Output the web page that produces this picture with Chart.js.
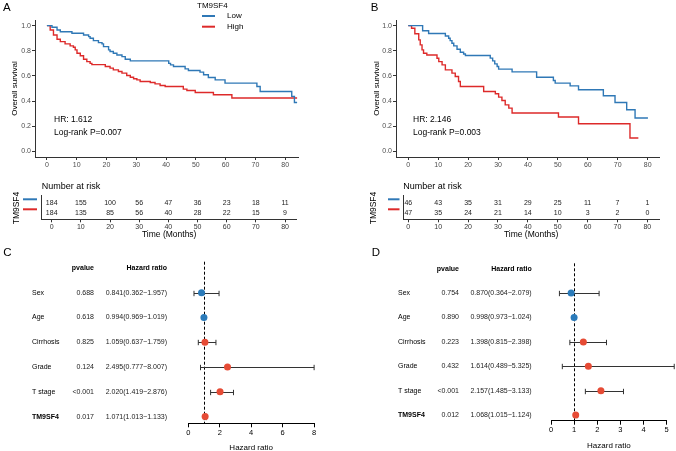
<!DOCTYPE html>
<html><head><meta charset="utf-8">
<script src="https://cdn.jsdelivr.net/npm/chart.js@4.4.1/dist/chart.umd.min.js"></script>
<style>
html,body{margin:0;padding:0;background:#fff;}
#wrap{position:relative;width:676px;height:451px;overflow:hidden;background:#fff;}
canvas{position:absolute;}
</style></head><body>
<div id="wrap">
<canvas id="kmA" width="340" height="175" style="left:0;top:0"></canvas>
<canvas id="kmB" width="336" height="175" style="left:340px;top:0"></canvas>
<canvas id="riskA" width="340" height="70" style="left:0;top:175px"></canvas>
<canvas id="riskB" width="336" height="70" style="left:340px;top:175px"></canvas>
<canvas id="forC" width="340" height="215" style="left:0;top:240px"></canvas>
<canvas id="forD" width="338" height="215" style="left:338px;top:240px"></canvas>
</div>
<script>
// ---------------- DATA ----------------
const timeTicks = [0, 10, 20, 30, 40, 50, 60, 70, 80];
const survTicks = [0, 0.2, 0.4, 0.6, 0.8, 1.0];
const groupLabels = ['Low', 'High'];

// Panel A (Kaplan-Meier, step points: time, survival)
const aLowT  = [0, 1.7, 3.4, 4.5, 8.4, 12.3, 14.0, 14.5, 15.6, 17.3, 18.5, 19.0, 20.7, 21.2, 22.3, 23.5, 25.2, 26.3, 28.0, 40.9, 41.5, 42.5, 46.4, 47.5, 51.4, 52.6, 54.2, 56.5, 59.8, 70.5, 71.6, 82.2, 83.1, 84.0];
const aLowS  = [1.0, 0.987, 0.966, 0.952, 0.94, 0.926, 0.913, 0.90, 0.881, 0.865, 0.855, 0.833, 0.807, 0.794, 0.78, 0.767, 0.754, 0.733, 0.72, 0.70, 0.688, 0.675, 0.656, 0.643, 0.63, 0.609, 0.588, 0.569, 0.543, 0.516, 0.476, 0.437, 0.389, 0.389];
const aHighT = [0, 1.1, 2.2, 3.4, 4.5, 6.1, 7.8, 8.9, 9.5, 10.1, 11.2, 12.3, 13.4, 14.5, 15.1, 19.6, 21.2, 22.3, 24.0, 25.2, 26.8, 28.0, 29.1, 30.2, 31.3, 34.7, 36.3, 38.0, 39.7, 45.8, 47.0, 49.8, 55.9, 62.1, 84.0];
const aHighS = [1.0, 0.966, 0.926, 0.892, 0.873, 0.855, 0.839, 0.828, 0.807, 0.78, 0.76, 0.733, 0.714, 0.70, 0.69, 0.675, 0.662, 0.648, 0.635, 0.622, 0.603, 0.590, 0.577, 0.569, 0.556, 0.548, 0.537, 0.524, 0.516, 0.495, 0.484, 0.468, 0.45, 0.424, 0.424];
const aRiskLow  = [184, 155, 100, 56, 47, 36, 23, 18, 11];
const aRiskHigh = [184, 135, 85, 56, 40, 28, 22, 15, 9];
const aStats = ['HR: 1.612', 'Log-rank P=0.007'];

// Panel B
const bLowT  = [0, 4.8, 6.8, 12.4, 13.5, 14.0, 14.6, 15.2, 16.3, 17.4, 18.5, 19.1, 27.4, 28.2, 28.9, 29.7, 30.2, 34.7, 42.9, 48.5, 49.1, 54.1, 56.9, 65.2, 69.1, 73.0, 75.8, 80.1];
const bLowS  = [1.0, 0.96, 0.937, 0.918, 0.90, 0.881, 0.86, 0.839, 0.812, 0.789, 0.775, 0.763, 0.742, 0.72, 0.696, 0.675, 0.654, 0.632, 0.59, 0.564, 0.543, 0.521, 0.49, 0.442, 0.389, 0.331, 0.265, 0.265];
const bHighT = [0, 1.1, 2.2, 3.5, 4.0, 4.6, 5.1, 6.2, 9.6, 10.2, 11.3, 12.4, 14.6, 15.7, 16.8, 17.4, 25.2, 29.1, 30.2, 31.3, 32.4, 33.6, 34.7, 50.2, 56.9, 74.1, 76.9];
const bHighS = [1.0, 0.979, 0.936, 0.887, 0.847, 0.807, 0.78, 0.767, 0.741, 0.714, 0.688, 0.648, 0.622, 0.595, 0.556, 0.516, 0.476, 0.458, 0.431, 0.405, 0.37, 0.344, 0.305, 0.273, 0.22, 0.106, 0.106];
const bRiskLow  = [46, 43, 35, 31, 29, 25, 11, 7, 1];
const bRiskHigh = [47, 35, 24, 21, 14, 10, 3, 2, 0];
const bStats = ['HR: 2.146', 'Log-rank P=0.003'];

// Forest plots
const forestVars = ['Sex', 'Age', 'Cirrhosis', 'Grade', 'T stage', 'TM9SF4'];
const cPval = ['0.688', '0.618', '0.825', '0.124', '<0.001', '0.017'];
const cHR   = [0.841, 0.994, 1.059, 2.495, 2.020, 1.071];
const cLow  = [0.362, 0.969, 0.637, 0.777, 1.419, 1.013];
const cHigh = [1.957, 1.019, 1.759, 8.007, 2.876, 1.133];
const dPval = ['0.754', '0.890', '0.223', '0.432', '<0.001', '0.012'];
const dHR   = [0.870, 0.998, 1.398, 1.614, 2.157, 1.068];
const dLow  = [0.364, 0.973, 0.815, 0.489, 1.485, 1.015];
const dHigh = [2.079, 1.024, 2.398, 5.325, 3.133, 1.124];

// ---------------- STYLE ----------------
const FONT = "'Liberation Sans', Arial, Helvetica, sans-serif";
const BLUE = '#2F78B6', RED = '#DD2A2A';
const FBLUE = '#2B7BBA', FRED = '#E64B35';
Chart.defaults.font.family = FONT;
Chart.defaults.animation = false;
Chart.defaults.responsive = false;

function txt(ctx, s, x, y, o) {
  o = o || {};
  ctx.save();
  ctx.font = (o.weight || 'normal') + ' ' + (o.size || 8) + 'px ' + FONT;
  ctx.fillStyle = o.color || '#000';
  ctx.textAlign = o.align || 'left';
  ctx.textBaseline = 'middle';
  if (o.rot) { ctx.translate(x, y); ctx.rotate(o.rot); ctx.fillText(s, 0, 0); }
  else ctx.fillText(s, x, y);
  ctx.restore();
}
function hline(ctx, x0, x1, y, color, w) {
  ctx.save(); ctx.strokeStyle = color; ctx.lineWidth = w;
  ctx.beginPath(); ctx.moveTo(x0, y); ctx.lineTo(x1, y); ctx.stroke(); ctx.restore();
}
const fixTicks = arr => s => { s.ticks = arr.map(v => ({ value: v })); };
const axisGrid = c => ({ display: true, drawOnChartArea: false, drawTicks: true, tickLength: 3, color: c, lineWidth: 1 });

// ---------------- KM ----------------
function makeKM(id, g) {
  const ds = (T, S, col, lab) => ({ label: lab, data: T.map((t, i) => ({ x: t, y: S[i] })),
    borderColor: col, borderWidth: 1.4, pointRadius: 0, stepped: true, fill: false, tension: 0 });
  new Chart(document.getElementById(id), {
    type: 'line',
    data: { datasets: [ds(g.lowT, g.lowS, BLUE, groupLabels[0]), ds(g.highT, g.highS, RED, groupLabels[1])] },
    options: {
      layout: { padding: { top: 20, right: g.padRight, left: 0, bottom: 0 } },
      plugins: { legend: { display: false }, tooltip: { enabled: false } },
      scales: {
        x: { type: 'linear', min: g.xmin, max: g.xmax, afterBuildTicks: fixTicks(timeTicks),
             afterFit: s => { s.height = 18; },
             ticks: { font: { size: 7 }, color: '#4d4d4d', padding: 1, maxRotation: 0, autoSkip: false },
             grid: axisGrid('#333'), border: { display: true, color: '#333', width: 1 } },
        y: { type: 'linear', min: -0.045, max: 1.045, afterBuildTicks: fixTicks(survTicks),
             afterFit: s => { s.width = g.yAxisW; },
             ticks: { font: { size: 7 }, color: '#4d4d4d', padding: 1, callback: v => Number(v).toFixed(1) },
             grid: axisGrid('#333'), border: { display: true, color: '#333', width: 1 },
             title: { display: true, text: 'Overall survival', font: { size: 8 }, color: '#000', padding: { top: g.titlePad, bottom: 0 } } }
      }
    },
    plugins: [{ id: 'kmAnn', afterDraw(c) {
      const ctx = c.ctx;
      txt(ctx, g.letter, g.letterX, 7.5, { size: 11.5 });
      txt(ctx, g.stats[0], g.annX, 119.3, { size: 8.5 });
      txt(ctx, g.stats[1], g.annX, 132.7, { size: 8.5 });
      if (g.legend) {
        txt(ctx, 'TM9SF4', 197, 5.5, { size: 8 });
        c.data.datasets.forEach((d, i) => {
          const y = 16 + i * 10.7;
          hline(ctx, 202, 215, y, d.borderColor, 2);
          txt(ctx, d.label, 227, y, { size: 8 });
        });
      }
    } }]
  });
}

// ---------------- Risk table ----------------
function makeRisk(id, g) {
  new Chart(document.getElementById(id), {
    type: 'scatter',
    data: { datasets: [] },
    options: {
      layout: { padding: { top: 20.7, right: g.padRight, left: 0, bottom: 0 } },
      plugins: { legend: { display: false }, tooltip: { enabled: false } },
      scales: {
        x: { type: 'linear', min: g.xmin, max: g.xmax, afterBuildTicks: fixTicks(timeTicks),
             afterFit: s => { s.height = 25.7; },
             ticks: { font: { size: 7 }, color: '#333', padding: 1, maxRotation: 0, autoSkip: false },
             grid: axisGrid('#333'), border: { display: true, color: '#333', width: 1 },
             title: { display: true, text: 'Time (Months)', font: { size: 8.5 }, color: '#000', padding: { top: 0, bottom: 5 } } },
        y: { type: 'linear', min: -0.76, max: 1.6, reverse: true, afterFit: s => { s.width = g.axisX; },
             ticks: { display: false }, grid: { display: false }, border: { display: true, color: '#333', width: 1 } }
      }
    },
    plugins: [{ id: 'riskAnn', afterDraw(c) {
      const ctx = c.ctx, xs = c.scales.x, ys = c.scales.y;
      txt(ctx, 'Number at risk', g.axisX, 11.7, { size: 9 });
      txt(ctx, 'TM9SF4', g.tmX, 33, { size: 8.5, align: 'center', rot: -Math.PI / 2 });
      [g.low, g.high].forEach((row, r) => {
        const y = ys.getPixelForValue(r);
        hline(ctx, g.keyX0, g.keyX1, y - 4, r === 0 ? BLUE : RED, 2);
        row.forEach((n, i) => txt(ctx, String(n), xs.getPixelForValue(timeTicks[i]), y, { size: 7, align: 'center', color: '#222' }));
      });
    } }]
  });
}

// ---------------- Forest ----------------
function makeForest(id, g) {
  new Chart(document.getElementById(id), {
    type: 'scatter',
    data: { datasets: [{ data: g.hr.map((v, i) => ({ x: v, y: i })), pointRadius: 3.5, pointHoverRadius: 3.5,
      pointBackgroundColor: g.hr.map(v => v < 1 ? FBLUE : FRED), pointBorderWidth: 0, clip: false }] },
    options: {
      layout: { padding: { top: g.padT, right: g.padR, left: g.areaL, bottom: 0 } },
      plugins: { legend: { display: false }, tooltip: { enabled: false } },
      scales: {
        x: { type: 'linear', min: 0, max: g.xmax, ticks: { stepSize: g.step, font: { size: 7.5 }, color: '#000', padding: 1 },
             afterFit: s => { s.height = g.xh; },
             grid: { display: true, drawOnChartArea: false, drawTicks: true, tickLength: 4, color: '#000' },
             border: { display: true, color: '#000', width: 1 },
             title: { display: true, text: 'Hazard ratio', font: { size: 8 }, color: '#000', padding: { top: 0, bottom: g.tb } } },
        y: { display: false, type: 'linear', min: g.ymin, max: g.ymax, reverse: true }
      }
    },
    plugins: [{ id: 'whisk', beforeDatasetsDraw(c) {
      const ctx = c.ctx, xs = c.scales.x, ys = c.scales.y, a = c.chartArea;
      ctx.save();
      ctx.strokeStyle = '#000'; ctx.lineWidth = 1; ctx.setLineDash([3, 2]);
      const x1 = Math.round(xs.getPixelForValue(1)) + 0.5;
      ctx.beginPath(); ctx.moveTo(x1, a.top); ctx.lineTo(x1, a.bottom); ctx.stroke();
      ctx.setLineDash([]); ctx.strokeStyle = '#333';
      g.hr.forEach((v, i) => {
        const y = Math.round(ys.getPixelForValue(i)) + 0.5;
        const l = xs.getPixelForValue(g.lo[i]), h = xs.getPixelForValue(g.hi[i]);
        ctx.beginPath(); ctx.moveTo(l, y); ctx.lineTo(h, y);
        ctx.moveTo(l, y - 2.7); ctx.lineTo(l, y + 2.7);
        ctx.moveTo(h, y - 2.7); ctx.lineTo(h, y + 2.7); ctx.stroke();
      });
      ctx.restore();
    }, afterDraw(c) {
      const ctx = c.ctx, ys = c.scales.y;
      txt(ctx, g.letter, g.letterX, 13, { size: 11.5 });
      const yh = ys.getPixelForValue(-1);
      txt(ctx, 'pvalue', g.pX, yh, { size: 7, weight: 'bold', align: 'right' });
      txt(ctx, 'Hazard ratio', g.hrX, yh, { size: 7, weight: 'bold', align: 'right' });
      forestVars.forEach((name, i) => {
        const y = ys.getPixelForValue(i);
        const bold = name === 'TM9SF4' ? 'bold' : 'normal';
        txt(ctx, name, g.labelX, y, { size: 7, weight: bold });
        txt(ctx, g.p[i], g.pX, y, { size: 7, align: 'right', color: '#222' });
        txt(ctx, g.hr[i].toFixed(3) + '(' + g.lo[i].toFixed(3) + '\u2212' + g.hi[i].toFixed(3) + ')', g.hrX, y, { size: 7, align: 'right', color: '#222' });
      });
    } }]
  });
}

makeKM('kmA', { lowT: aLowT, lowS: aLowS, highT: aHighT, highS: aHighS, xmin: -4, xmax: 84.3, yAxisW: 35, padRight: 42,
  titlePad: 10, letter: 'A', letterX: 3, stats: aStats, annX: 54, legend: true });
makeKM('kmB', { lowT: bLowT, lowS: bLowS, highT: bHighT, highS: bHighS, xmin: -4.1, xmax: 83.9, yAxisW: 56, padRight: 16.7,
  titlePad: 31.6, letter: 'B', letterX: 30.7, stats: bStats, annX: 73, legend: false });
makeRisk('riskA', { low: aRiskLow, high: aRiskHigh, xmin: -3.43, xmax: 84, axisX: 41.7, padRight: 43.3, keyX0: 23, keyX1: 37, tmX: 17 });
makeRisk('riskB', { low: bRiskLow, high: bRiskHigh, xmin: -1.67, xmax: 83.9, axisX: 63.3, padRight: 17, keyX0: 48, keyX1: 59.5, tmX: 34 });
makeForest('forC', { hr: cHR, lo: cLow, hi: cHigh, p: cPval, xmax: 8, step: 2, areaL: 188.3, padR: 26, padT: 21.7, xh: 31.7, tb: 2.9,
  ymin: -1.25, ymax: 5.27, letter: 'C', letterX: 3.3, labelX: 32, pX: 94, hrX: 167 });
makeForest('forD', { hr: dHR, lo: dLow, hi: dHigh, p: dPval, xmax: 5, step: 1, areaL: 213, padR: 9.3, padT: 23.3, xh: 34.3, tb: 4.2,
  ymin: -1.22, ymax: 5.23, letter: 'D', letterX: 33.7, labelX: 60, pX: 121, hrX: 193.7 });
</script>
</body></html>
